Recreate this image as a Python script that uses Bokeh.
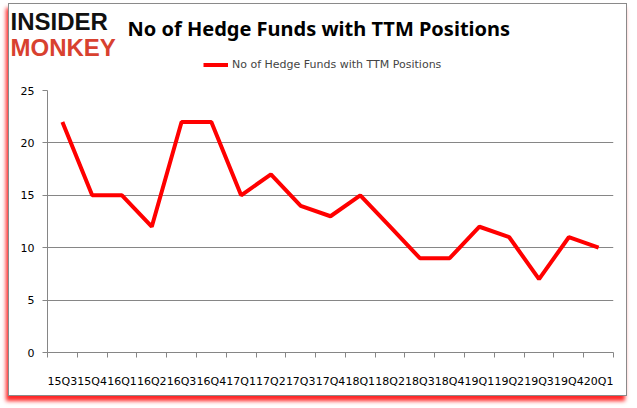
from bokeh.plotting import figure
from bokeh.layouts import column
from bokeh.models import FixedTicker, Label, Legend, LegendItem, Range1d
from bokeh.embed import file_html
from bokeh.resources import INLINE

quarters = ["15Q3", "15Q4", "16Q1", "16Q2", "16Q3", "16Q4", "17Q1", "17Q2", "17Q3", "17Q4",
            "18Q1", "18Q2", "18Q3", "18Q4", "19Q1", "19Q2", "19Q3", "19Q4", "20Q1"]
funds = [22, 15, 15, 12, 22, 22, 15, 17, 14, 13, 15, 12, 9, 9, 12, 11, 7, 11, 10]
y_ticks = [0, 5, 10, 15, 20, 25]
series_name = "No of Hedge Funds with TTM Positions"
title_text = "No of Hedge Funds with TTM Positions"

n = len(quarters)
xs = [i + 0.5 for i in range(n)]
LINE_COLOR = "#ff0000"
LINE_WIDTH = 4
NAN = float("nan")

# ---------- header: logo, title, legend ----------
h = figure(width=619, height=72, output_backend="svg", toolbar_location=None,
           x_range=Range1d(0, 1), y_range=Range1d(0, 1),
           x_axis_type=None, y_axis_type=None,
           min_border_left=0, min_border_right=0, min_border_top=0, min_border_bottom=0)
h.frame_align = False
h.outline_line_color = None
h.xgrid.visible = False
h.ygrid.visible = False
# legend-only renderer (no visible points)
legend_r = h.line(x=[NAN], y=[NAN], line_color=LINE_COLOR, line_width=LINE_WIDTH)
legend = Legend(items=[LegendItem(label=series_name, renderers=[legend_r])],
                location=(194, 5), orientation="horizontal",
                border_line_color=None, background_fill_alpha=0,
                label_text_font="DejaVu Sans", label_text_font_size="11px",
                label_height=13, glyph_height=13,
                glyph_width=25, label_standoff=4, padding=0, margin=0)
h.add_layout(legend, "center")
h.add_layout(Label(x=118, y=48, x_units="screen", y_units="screen", text=title_text,
                   text_font="Noto Sans", text_font_style="bold", text_font_size="20px",
                   text_color="#000000", text_baseline="middle"))
h.add_layout(Label(x=1, y=55, x_units="screen", y_units="screen", text="INSIDER",
                   text_font="Liberation Sans", text_font_style="bold", text_font_size="24px",
                   text_color="#111111", text_baseline="middle"))
h.add_layout(Label(x=1, y=29, x_units="screen", y_units="screen", text="MONKEY",
                   text_font="Liberation Sans", text_font_style="bold", text_font_size="24px",
                   text_color="#d8412f", text_baseline="middle"))

# ---------- main chart ----------
p = figure(width=619, height=319, output_backend="svg", toolbar_location=None,
           x_range=Range1d(0, n), y_range=Range1d(0, 25),
           min_border_left=38, min_border_right=13, min_border_top=14, min_border_bottom=43)
p.frame_align = False
p.outline_line_color = None
p.background_fill_color = "white"

p.line(xs, funds, line_color=LINE_COLOR, line_width=LINE_WIDTH)

p.xaxis.ticker = FixedTicker(ticks=xs, minor_ticks=list(range(n + 1)))
p.xaxis.major_label_overrides = {x: q for x, q in zip(xs, quarters)}
p.xaxis.major_tick_line_color = None
p.xaxis.major_tick_out = 0
p.xaxis.major_tick_in = 0
p.xaxis.minor_tick_line_color = "#868686"
p.xaxis.minor_tick_out = 5
p.xaxis.minor_tick_in = 0
p.xaxis.axis_line_color = "#868686"
p.xaxis.major_label_standoff = 17
p.xaxis.major_label_text_font = "DejaVu Sans"
p.xaxis.major_label_text_font_size = "11px"
p.xaxis.major_label_text_color = "#000000"

p.yaxis.ticker = FixedTicker(ticks=y_ticks)
p.yaxis.minor_tick_line_color = None
p.yaxis.major_tick_line_color = "#868686"
p.yaxis.major_tick_out = 5
p.yaxis.major_tick_in = 0
p.yaxis.axis_line_color = "#868686"
p.yaxis.major_label_standoff = 8
p.yaxis.major_label_text_font = "DejaVu Sans"
p.yaxis.major_label_text_font_size = "11px"
p.yaxis.major_label_text_color = "#000000"

p.xgrid.grid_line_color = None
p.ygrid.ticker = FixedTicker(ticks=y_ticks)
p.ygrid.grid_line_color = "#868686"
p.ygrid.grid_line_width = 1

layout = column(h, p, spacing=0,
                styles={"border": "1px solid #8a8a8a",
                        "box-shadow": "-2px 5px 4px rgba(255,0,0,0.85)",
                        "margin-left": "8px", "margin-top": "3px",
                        "width": "619px", "background": "white"})

open("out.html", "w").write(file_html(layout, INLINE))
